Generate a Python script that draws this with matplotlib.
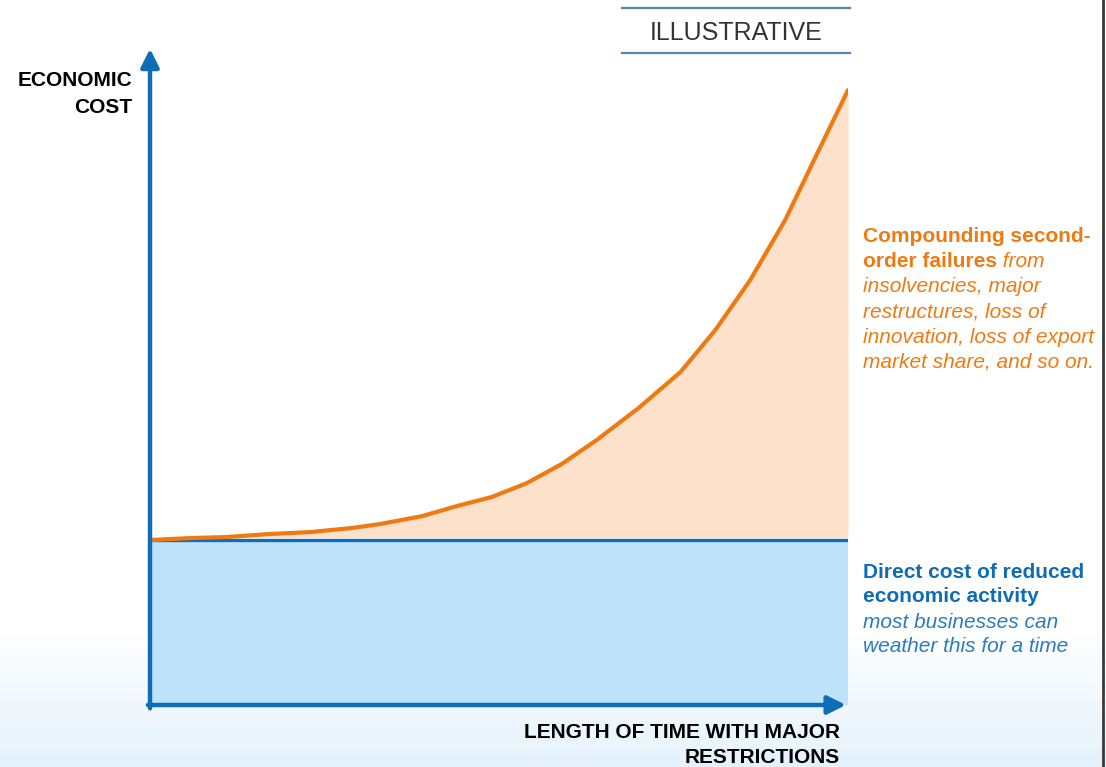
import matplotlib
matplotlib.use('Agg')
import matplotlib.pyplot as plt
import numpy as np

plt.rcParams['font.family'] = ['Liberation Sans', 'DejaVu Sans']

# time with major restrictions (arbitrary units) and economic cost
time = [0, 0.6, 1.1, 1.7, 2.3, 2.9, 3.3, 3.9, 4.4, 4.9, 5.4, 5.9, 6.4, 7.0,
        7.6, 8.1, 8.6, 9.1, 9.5, 10]
total_cost = [1.0, 1.012, 1.018, 1.036, 1.048, 1.073, 1.097, 1.145, 1.206,
              1.261, 1.345, 1.461, 1.606, 1.80, 2.018, 2.273, 2.576, 2.939,
              3.291, 3.727]
direct_cost = 1.0

BLUE = '#0f6cb6'
ORANGE = '#f07a12'

W, H = 1106, 767
fig = plt.figure(figsize=(W / 100, H / 100), dpi=100)

# soft blue gradient at the bottom of the slide
bg = fig.add_axes([0, 0, 1, 1], zorder=-10)
grad = np.clip((np.linspace(0, 1, 200) - 0.82) / 0.18, 0, 1)[:, None]
top = np.array([1.0, 1.0, 1.0])
bot = np.array([0.90, 0.95, 0.985])
img = top + grad[..., None] * (bot - top)
bg.imshow(img, aspect='auto', extent=[0, 1, 0, 1])
bg.set_xlim(0, 1)
bg.set_ylim(0, 1)
bg.axis('off')
# right frame edge
bg.plot([1103 / W, 1103 / W], [0, 1], color='#3a3a3a', lw=2)

ax = fig.add_axes([150 / W, (H - 705) / H, 698 / W, 653 / H])
ax.set_xlim(0, 10)
ax.set_ylim(0, 653 / 165)
ax.axis('off')

ax.fill_between([0, 10], 0, direct_cost, color='#bfe2fb', lw=0)
ax.fill_between(time, direct_cost + 0.015, total_cost, color='#fde1ca', lw=0)
ax.plot([0, 10], [direct_cost, direct_cost], color=BLUE, lw=2.4,
        solid_capstyle='butt')
ax.plot(time, total_cost, color=ORANGE, lw=3, solid_capstyle='round',
        solid_joinstyle='round')

# axes arrows
arrow = dict(arrowstyle='-|>,head_length=1.1,head_width=0.55', color=BLUE,
             lw=3.2, shrinkA=0, shrinkB=0)
ax.annotate('', xy=(0, 1.005), xytext=(0, -0.005), xycoords='axes fraction',
            arrowprops=arrow, annotation_clip=False)
ax.annotate('', xy=(0.997, 0), xytext=(-0.003, 0), xycoords='axes fraction',
            arrowprops=arrow, annotation_clip=False)

# axis labels
fig.text(132 / W, 1 - 94 / H, 'ECONOMIC\nCOST', ha='right', va='center',
         fontsize=15, fontweight='bold', linespacing=1.55)
fig.text(840 / W, 1 - 745 / H, 'LENGTH OF TIME WITH MAJOR\nRESTRICTIONS',
         ha='right', va='center', fontsize=15, fontweight='bold',
         linespacing=1.45)

# illustrative tag
fig.text(736 / W, 1 - 33 / H, 'ILLUSTRATIVE', ha='center', va='center',
         fontsize=18, color='#333333')
for yy in (8, 53):
    bg.plot([622 / W, 850 / W], [1 - yy / H, 1 - yy / H], color='#5a84ab',
            lw=1.6)

# annotations on the right
tx = 863 / W
fs = 15
fig.text(tx, 1 - 237 / H, 'Compounding second-', color=ORANGE, fontsize=fs,
         fontweight='bold', va='center')
t = fig.text(tx, 1 - 262 / H, 'order failures', color=ORANGE, fontsize=fs,
             fontweight='bold', va='center')
ax.annotate(' from', xy=(1, 0), xycoords=t, va='bottom', color=ORANGE,
            fontsize=fs, style='italic', annotation_clip=False)
for i, line in enumerate(['insolvencies, major', 'restructures, loss of',
                          'innovation, loss of export',
                          'market share, and so on.']):
    fig.text(tx, 1 - (287 + 25 * i) / H, line, color=ORANGE, fontsize=fs,
             style='italic', va='center')

for i, line in enumerate(['Direct cost of reduced', 'economic activity']):
    fig.text(tx, 1 - (572 + 25 * i) / H, line, color=BLUE, fontsize=fs,
             fontweight='bold', va='center')
for i, line in enumerate(['most businesses can', 'weather this for a time']):
    fig.text(tx, 1 - (622 + 25 * i) / H, line, color='#2a7bc0', fontsize=fs,
             style='italic', va='center')

fig.savefig('out.png', dpi=100)
